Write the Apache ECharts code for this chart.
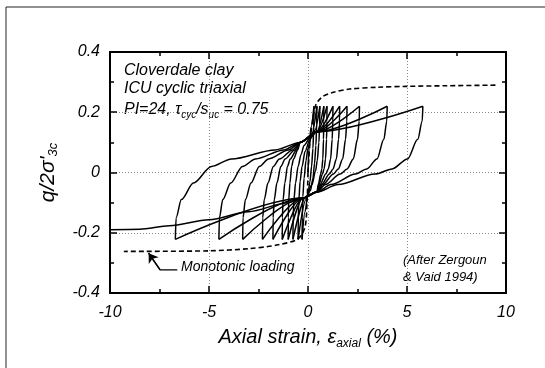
<!DOCTYPE html>
<html>
<head>
<meta charset="utf-8">
<script src="https://cdn.jsdelivr.net/npm/echarts@6/dist/echarts.min.js"></script>
<style>
  html, body { margin: 0; padding: 0; background: #fff; }
  #chart { width: 545px; height: 368px; }
</style>
</head>
<body>
<div id="chart"></div>
<script>
// axis ticks
const strainTicks = [-10, -5, 0, 5, 10];
const stressTicks = [-0.4, -0.2, 0, 0.2, 0.4];

// cyclic test: each branch, in loading order
const cyclicBranches = [
  [[0, 0], [0.05, 0.08], [0.15, 0.15], [0.3, 0.22]],
  [[0.3, 0.22], [0.29, 0.15], [0.25, 0.08], [0.18, 0.02], [0.1, -0.03], [0, -0.07], [-0.15, -0.13], [-0.3, -0.222]],
  [[-0.3, -0.222], [-0.29, -0.15], [-0.26, -0.08], [-0.2, -0.02], [-0.1, 0.04], [0, 0.08], [0.2, 0.13], [0.45, 0.22]],
  [[0.45, 0.22], [0.44, 0.16], [0.4, 0.09], [0.33, 0.03], [0.25, -0.02], [0.12, -0.06], [-0.1, -0.09], [-0.5, -0.222]],
  [[-0.5, -0.222], [-0.49, -0.15], [-0.46, -0.09], [-0.4, -0.03], [-0.3, 0.02], [-0.15, 0.07], [0.1, 0.11], [0.35, 0.14], [0.6, 0.22]],
  [[0.6, 0.22], [0.59, 0.16], [0.55, 0.1], [0.47, 0.04], [0.38, 0.005], [0.2, -0.04], [-0.1, -0.08], [-0.76, -0.222]],
  [[-0.76, -0.222], [-0.75, -0.15], [-0.71, -0.09], [-0.63, -0.035], [-0.5, 0.02], [-0.35, 0.06], [-0.2, 0.09], [0.1, 0.115], [0.45, 0.135], [0.8, 0.22]],
  [[0.8, 0.22], [0.798, 0.17], [0.783, 0.11], [0.749, 0.045], [0.699, 0.012], [0.643, -0.005], [0.52, -0.04], [0.45, -0.065], [-0.25, -0.085], [-1.0, -0.222]],
  [[-1.0, -0.222], [-0.996, -0.15], [-0.971, -0.09], [-0.913, -0.035], [-0.826, 0.02], [-0.73, 0.045], [-0.52, 0.075], [-0.4, 0.1], [0.45, 0.135], [0.96, 0.22]],
  [[0.96, 0.22], [0.957, 0.17], [0.936, 0.11], [0.886, 0.045], [0.812, 0.012], [0.731, -0.005], [0.552, -0.04], [0.45, -0.065], [-0.25, -0.085], [-1.3, -0.222]],
  [[-1.3, -0.222], [-1.295, -0.15], [-1.257, -0.09], [-1.17, -0.035], [-1.039, 0.02], [-0.895, 0.045], [-0.58, 0.075], [-0.4, 0.1], [0.45, 0.135], [1.26, 0.22]],
  [[1.26, 0.22], [1.255, 0.17], [1.221, 0.11], [1.143, 0.045], [1.025, 0.012], [0.896, -0.005], [0.612, -0.04], [0.45, -0.065], [-0.25, -0.085], [-1.77, -0.222]],
  [[-1.77, -0.222], [-1.762, -0.15], [-1.704, -0.09], [-1.571, -0.035], [-1.373, 0.02], [-1.154, 0.045], [-0.674, 0.075], [-0.4, 0.1], [0.45, 0.135], [1.6, 0.22]],
  [[1.6, 0.22], [1.593, 0.17], [1.545, 0.11], [1.433, 0.045], [1.267, 0.012], [1.083, -0.005], [0.68, -0.04], [0.45, -0.065], [-0.25, -0.085], [-2.3, -0.222]],
  [[-2.3, -0.222], [-2.289, -0.15], [-2.209, -0.09], [-2.025, -0.035], [-1.749, 0.02], [-1.445, 0.045], [-0.78, 0.075], [-0.4, 0.1], [0.45, 0.135], [1.97, 0.22]],
  [[1.97, 0.22], [1.961, 0.17], [1.897, 0.11], [1.75, 0.045], [1.529, 0.012], [1.286, -0.005], [0.754, -0.04], [0.45, -0.065], [-0.25, -0.085], [-3.3, -0.222]],
  [[-3.3, -0.222], [-3.283, -0.15], [-3.161, -0.09], [-2.88, -0.035], [-2.459, 0.02], [-1.995, 0.045], [-0.98, 0.075], [-0.4, 0.1], [0.45, 0.135], [2.6, 0.22]],
  [[2.6, 0.22], [2.587, 0.17], [2.497, 0.11], [2.288, 0.045], [1.977, 0.012], [1.633, -0.005], [0.88, -0.04], [0.45, -0.065], [-0.25, -0.085], [-4.5, -0.222]],
  [[-4.5, -0.222], [-4.475, -0.15], [-4.303, -0.09], [-3.906, -0.035], [-3.311, 0.02], [-2.655, 0.045], [-1.22, 0.075], [-0.4, 0.1], [0.45, 0.135], [4.0, 0.22]],
  [[4.0, 0.22], [3.979, 0.17], [3.83, 0.11], [3.485, 0.045], [2.971, 0.012], [2.403, -0.005], [1.16, -0.04], [0.45, -0.065], [-0.25, -0.085], [-6.7, -0.222]],
  [[-6.7, -0.222], [-6.662, -0.15], [-6.398, -0.09], [-5.787, -0.035], [-4.873, 0.02], [-3.865, 0.045], [-1.66, 0.075], [-0.4, 0.1], [0.45, 0.135], [5.8, 0.22]],
  [[5.8, 0.22], [5.768, 0.17], [5.543, 0.11], [5.024, 0.045], [4.249, 0.012], [3.393, -0.005], [1.52, -0.04], [0.45, -0.065], [-0.3, -0.085], [-1, -0.1], [-3, -0.13], [-5, -0.157], [-7, -0.177], [-8.5, -0.188], [-10, -0.19]]
];

// monotonic tests (dashed)
const monoCompression = [[0, 0], [0.1, 0.1], [0.25, 0.18], [0.4, 0.225], [0.7, 0.25], [1.2, 0.265], [2.1, 0.277], [3.5, 0.283], [5, 0.286], [7, 0.288], [9.5, 0.29]];
const monoExtension = [[0, 0], [-0.05, -0.1], [-0.15, -0.18], [-0.5, -0.22], [-1.5, -0.24], [-3, -0.253], [-5, -0.26], [-9.3, -0.262]];

// leader from the "Monotonic loading" label
const arrowPath = [[-6.6, -0.323], [-7.47, -0.323], [-8.05, -0.268]];

const FONT = 'Liberation Sans, Arial, sans-serif';
const chart = echarts.init(document.getElementById('chart'));

function frameAxis() {
  return {
    axisLine: { show: true, onZero: false, lineStyle: { color: '#000', width: 2 } },
    axisTick: { show: true, inside: true, length: 7, lineStyle: { color: '#000', width: 1.5 } },
    minorTick: { show: true, splitNumber: 2, length: 4, lineStyle: { color: '#000', width: 1.5 } }
  };
}

const series = cyclicBranches.map(b => ({
  type: 'line', data: b, symbol: 'none', smooth: 0.3, smoothMonotone: 'x',
  lineStyle: { color: '#000', width: 1.5 }, z: 3
}));
series.push(
  { type: 'line', data: monoCompression, symbol: 'none', smooth: 0.3, lineStyle: { color: '#000', width: 1.6, type: [5, 3] } },
  { type: 'line', data: monoExtension, symbol: 'none', smooth: 0.3, lineStyle: { color: '#000', width: 1.6, type: [5, 3] } },
  {
    type: 'line', data: arrowPath, symbol: 'none', lineStyle: { color: '#000', width: 1.3 },
    markLine: {
      silent: true, animation: false, symbol: ['none', 'arrow'], symbolSize: 9,
      label: { show: false },
      lineStyle: { color: '#000', width: 1.3, type: 'solid' },
      data: [[{ coord: arrowPath[1] }, { coord: arrowPath[2] }]]
    }
  }
);

const subStyle = size => ({
  fontFamily: FONT, fontStyle: 'italic', fontSize: size, color: '#000', lineHeight: 10, verticalAlign: 'bottom'
});

const option = {
  animation: false,
  backgroundColor: '#fff',
  grid: { left: 110, right: 39, top: 52, bottom: 75, outerBoundsMode: 'none' },
  xAxis: [
    Object.assign({
      type: 'value', min: -10, max: 10, interval: 5,
      name: 'Axial strain, ε{s|axial} (%)', nameLocation: 'middle', nameGap: 32,
      nameTextStyle: {
        fontFamily: FONT, fontStyle: 'italic', fontSize: 20, color: '#000', lineHeight: 24,
        rich: { s: subStyle(12) }
      },
      axisLabel: {
        fontFamily: FONT, fontStyle: 'italic', fontSize: 16, color: '#000', margin: 12,
        formatter: v => strainTicks.includes(v) ? String(v) : ''
      },
      splitLine: { show: true, lineStyle: { color: '#888', type: [1, 2], width: 1 } }
    }, frameAxis()),
    Object.assign({
      type: 'value', min: -10, max: 10, interval: 5, position: 'top',
      axisLabel: { show: false }, splitLine: { show: false }
    }, frameAxis())
  ],
  yAxis: [
    Object.assign({
      type: 'value', min: -0.4, max: 0.4, interval: 0.2,
      name: "q/2σ'{s|3c}", nameLocation: 'middle', nameGap: 50, nameRotate: 90,
      nameTextStyle: {
        fontFamily: FONT, fontStyle: 'italic', fontSize: 21, color: '#000', lineHeight: 24,
        rich: { s: subStyle(13) }
      },
      axisLabel: {
        fontFamily: FONT, fontStyle: 'italic', fontSize: 16, color: '#000', margin: 10,
        formatter: v => {
          const t = stressTicks.find(s => Math.abs(s - v) < 1e-9);
          return t === undefined ? '' : String(t);
        }
      },
      splitLine: { show: true, lineStyle: { color: '#888', type: [1, 2], width: 1 } }
    }, frameAxis()),
    Object.assign({
      type: 'value', min: -0.4, max: 0.4, interval: 0.2, position: 'right',
      axisLabel: { show: false }, splitLine: { show: false }
    }, frameAxis())
  ],
  series: series,
  graphic: [
    { type: 'rect', silent: true, shape: { x: 6, y: 7, width: 700, height: 500 },
      style: { fill: 'none', stroke: '#222', lineWidth: 1 } },
    { type: 'text', left: 124, top: 63, silent: true,
      style: { text: 'Cloverdale clay', font: 'italic 16px ' + FONT, fill: '#000' } },
    { type: 'text', left: 124, top: 81, silent: true,
      style: { text: 'ICU cyclic triaxial', font: 'italic 16px ' + FONT, fill: '#000' } },
    { type: 'text', left: 124, top: 100, silent: true,
      style: {
        text: 'PI=24, τ{s|cyc}/s{s|uc} = 0.75', font: 'italic 16px ' + FONT, fill: '#000', lineHeight: 20,
        rich: {
          s: { font: 'italic 10px ' + FONT, fill: '#000', lineHeight: 8, verticalAlign: 'bottom' }
        }
      } },
    { type: 'text', left: 181, top: 260, silent: true,
      style: { text: 'Monotonic loading', font: 'italic 14px ' + FONT, fill: '#000' } },
    { type: 'text', left: 403, top: 252, silent: true,
      style: { text: '(After Zergoun\n& Vaid 1994)', font: 'italic 13px ' + FONT, fill: '#000', lineHeight: 17 } }
  ]
};

chart.setOption(option);
</script>
</body>
</html>
